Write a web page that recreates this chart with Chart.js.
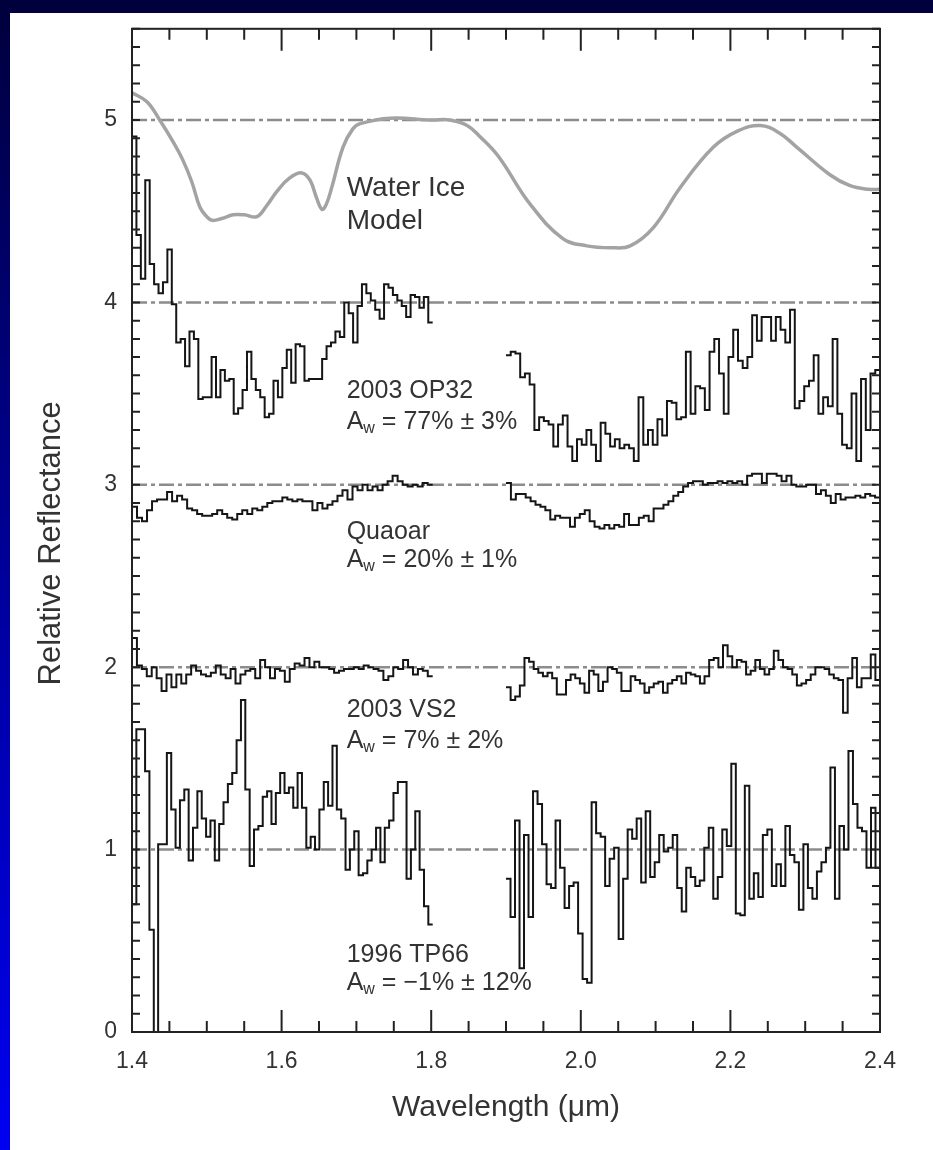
<!DOCTYPE html>
<html>
<head>
<meta charset="utf-8">
<script src="https://cdn.jsdelivr.net/npm/chart.js@4.4.1/dist/chart.umd.min.js"></script>
<style>
  html, body { margin: 0; padding: 0; }
  body {
    width: 933px; height: 1150px; position: relative; overflow: hidden;
    background: linear-gradient(to bottom, #00003c 0%, #00009a 50%, #0000f2 100%);
  }
  #panel { position: absolute; left: 10px; top: 13px; width: 923px; height: 1137px; background: #fff; }
  #spec { position: absolute; left: 0; top: 0; }
</style>
</head>
<body>
<div id="panel"></div>
<canvas id="spec" width="933" height="1150"></canvas>
<script>
// rentang panjang gelombang tiap potongan spektrum (mikron)
const segStart = [1.4, 1.9];
const segEnd = [1.802, 2.4];

// tick label sumbu
const xTickLabels = [1.4, 1.6, 1.8, 2.0, 2.2, 2.4];
const yTickLabels = [0, 1, 2, 3, 4, 5];
const refLevels = [1, 2, 3, 4, 5];

// model es air (kurva halus abu-abu)
const modelWave = [1.400, 1.420, 1.437, 1.455, 1.468, 1.480, 1.491, 1.500, 1.507, 1.520, 1.535, 1.550, 1.567, 1.580, 1.594, 1.610, 1.627, 1.638, 1.647, 1.654, 1.660, 1.667, 1.682, 1.695, 1.705, 1.745, 1.800, 1.825, 1.848, 1.865, 1.890, 1.932, 1.976, 2.008, 2.040, 2.066, 2.097, 2.133, 2.177, 2.210, 2.240, 2.265, 2.289, 2.333, 2.360, 2.385, 2.400];
const modelRefl = [5.15, 5.10, 5.00, 4.88, 4.78, 4.66, 4.52, 4.47, 4.45, 4.46, 4.48, 4.48, 4.47, 4.53, 4.61, 4.68, 4.71, 4.67, 4.57, 4.51, 4.54, 4.63, 4.85, 4.95, 4.98, 5.01, 5.00, 5.00, 4.97, 4.91, 4.80, 4.54, 4.35, 4.31, 4.30, 4.31, 4.41, 4.63, 4.85, 4.94, 4.97, 4.93, 4.85, 4.70, 4.64, 4.62, 4.62];

// spektrum (nilai per bin, potongan kiri dan kanan)
const op32A = [4.91, 4.37, 4.13, 4.67, 4.21, 4.10, 4.05, 4.11, 4.29, 3.99,
  3.78, 3.80, 3.65, 3.84, 3.80, 3.47, 3.48, 3.48, 3.70, 3.48,
  3.63, 3.57, 3.58, 3.39, 3.42, 3.52, 3.73, 3.58, 3.52, 3.48,
  3.37, 3.39, 3.57, 3.48, 3.64, 3.74, 3.56, 3.77, 3.76, 3.57,
  3.58, 3.58, 3.58, 3.69, 3.76, 3.78, 3.84, 3.81, 4.00, 3.94,
  3.78, 3.98, 4.10, 4.05, 4.01, 3.96, 3.91, 4.10, 4.08, 4.04,
  4.01, 3.98, 3.92, 4.04, 4.03, 3.97, 4.03, 3.89];
const op32B = [3.71, 3.73, 3.72, 3.59, 3.61, 3.55, 3.30, 3.37, 3.35, 3.33,
  3.21, 3.33, 3.38, 3.21, 3.13, 3.25, 3.22, 3.30, 3.22, 3.13,
  3.34, 3.28, 3.21, 3.25, 3.20, 3.22, 3.20, 3.13, 3.48, 3.22,
  3.30, 3.22, 3.36, 3.27, 3.46, 3.45, 3.36, 3.37, 3.73, 3.39,
  3.54, 3.53, 3.41, 3.73, 3.80, 3.61, 3.39, 3.70, 3.85, 3.68,
  3.64, 3.70, 3.93, 3.79, 3.92, 3.92, 3.79, 3.92, 3.85, 3.78,
  3.96, 3.42, 3.46, 3.54, 3.57, 3.71, 3.39, 3.48, 3.43, 3.80,
  3.39, 3.22, 3.20, 3.50, 3.13, 3.58, 3.30, 3.61, 3.63];

const quaoarA = [2.88, 2.82, 2.80, 2.86, 2.91, 2.92, 2.92, 2.96, 2.91, 2.94,
  2.92, 2.87, 2.86, 2.84, 2.83, 2.83, 2.84, 2.86, 2.84, 2.82,
  2.81, 2.84, 2.86, 2.84, 2.87, 2.86, 2.88, 2.90, 2.91, 2.91,
  2.93, 2.92, 2.91, 2.92, 2.91, 2.91, 2.86, 2.90, 2.87, 2.89,
  2.91, 2.94, 2.97, 2.92, 2.99, 2.97, 3.00, 2.97, 2.99, 2.97,
  3.00, 3.02, 3.05, 3.02, 3.00, 2.99, 3.00, 2.99, 3.01, 3.00];
const quaoarB = [3.01, 2.92, 2.95, 2.95, 2.93, 2.91, 2.89, 2.88, 2.86, 2.81,
  2.83, 2.82, 2.82, 2.77, 2.82, 2.84, 2.86, 2.80, 2.77, 2.76,
  2.78, 2.76, 2.78, 2.77, 2.84, 2.78, 2.78, 2.82, 2.83, 2.80,
  2.87, 2.87, 2.89, 2.91, 2.94, 2.96, 2.99, 3.01, 3.02, 3.02,
  3.00, 3.01, 3.01, 3.02, 3.01, 3.02, 3.01, 3.02, 3.00, 3.05,
  3.06, 3.06, 3.01, 3.06, 3.06, 3.05, 3.02, 3.05, 3.00, 2.99,
  2.99, 3.00, 3.00, 2.95, 2.97, 2.94, 2.90, 2.95, 2.92, 2.93,
  2.93, 2.94, 2.93, 2.95, 2.94, 2.93];

const vs2A = [2.16, 2.01, 1.99, 1.95, 2.00, 1.94, 1.87, 1.96, 1.89, 1.96,
  1.91, 1.96, 2.01, 1.98, 1.96, 1.95, 1.97, 2.01, 1.96, 1.94,
  1.99, 1.91, 1.96, 1.98, 1.99, 1.94, 2.04, 2.00, 1.94, 1.99,
  1.98, 1.92, 1.99, 2.02, 2.01, 2.05, 2.00, 2.03, 2.00, 2.00,
  1.99, 1.97, 1.98, 1.99, 1.99, 2.00, 1.99, 2.01, 2.00, 1.99,
  1.98, 1.93, 1.95, 2.00, 1.99, 2.04, 2.00, 1.96, 1.99, 1.98, 1.95];
const vs2B = [1.89, 1.82, 1.84, 1.90, 2.05, 2.03, 1.99, 1.97, 1.95, 1.97,
  1.94, 1.85, 1.85, 1.93, 1.96, 1.94, 1.91, 1.86, 1.98, 1.96,
  1.87, 1.92, 2.00, 1.99, 1.97, 1.87, 1.87, 1.95, 1.93, 1.91,
  1.86, 1.89, 1.91, 1.92, 1.86, 1.91, 1.93, 1.95, 1.91, 1.97,
  1.96, 1.95, 1.91, 1.95, 2.04, 2.05, 2.00, 2.12, 2.06, 2.00,
  2.04, 2.03, 1.96, 1.98, 2.04, 1.99, 1.96, 1.99, 2.09, 2.04,
  2.00, 1.99, 1.96, 1.90, 1.91, 1.93, 1.96, 2.00, 2.00, 1.99,
  1.96, 1.94, 1.93, 1.75, 1.94, 2.05, 1.89, 1.94, 1.94, 2.07, 1.93];

const tp66A = [0.70, 1.66, 1.66, 1.43, 0.56, -0.05, 1.03, 1.03, 1.53, 1.22,
  1.01, 1.27, 1.33, 0.94, 1.12, 1.32, 1.17, 1.07, 1.16, 0.94,
  1.14, 1.26, 1.36, 1.42, 1.60, 1.82, 1.33, 0.91, 1.11, 1.13,
  1.29, 1.32, 1.14, 1.31, 1.42, 1.31, 1.34, 1.23, 1.42, 1.23,
  1.01, 1.07, 1.00, 1.22, 1.37, 1.24, 1.57, 1.22, 1.17, 0.89,
  1.00, 1.10, 0.86, 0.87, 0.94, 1.00, 1.12, 0.93, 1.12, 1.16,
  1.31, 1.37, 1.37, 0.84, 1.00, 1.21, 0.89, 0.69, 0.59];
const tp66B = [0.84, 0.63, 1.16, 0.35, 1.08, 0.63, 1.32, 1.25, 1.03, 0.81,
  0.79, 1.16, 0.90, 0.68, 0.80, 0.82, 0.54, 0.29, 0.27, 1.26,
  1.09, 1.07, 0.80, 0.95, 1.01, 0.51, 0.84, 1.11, 1.06, 1.17,
  0.82, 1.21, 0.85, 0.93, 1.08, 0.99, 1.01, 1.08, 0.79, 0.66,
  0.90, 0.85, 0.80, 0.83, 1.01, 1.12, 0.73, 0.85, 1.11, 1.02,
  1.47, 0.65, 0.64, 1.35, 0.73, 0.87, 0.74, 1.08, 1.11, 0.80,
  0.92, 0.80, 1.13, 0.97, 0.93, 0.67, 1.03, 0.79, 0.73, 0.88,
  0.93, 1.01, 1.45, 0.73, 1.13, 1.00, 1.54, 1.25, 1.12, 1.10,
  0.90, 1.23, 0.90];

// label teks di dalam plot: posisi dalam satuan data
const notes = [
  { x: 1.687, y: [4.584, 4.403], lines: ['Water Ice', 'Model'], size: 28 },
  { x: 1.687, y: [3.478, 3.308], lines: ['2003 OP32', 'A_w = 77% ± 3%'], size: 25 },
  { x: 1.687, y: [2.705, 2.547], lines: ['Quaoar', 'A_w = 20% ± 1%'], size: 25 },
  { x: 1.687, y: [1.725, 1.555], lines: ['2003 VS2', 'A_w = 7% ± 2%'], size: 25 },
  { x: 1.687, y: [0.383, 0.230], lines: ['1996 TP66', 'A_w = \u22121% ± 12%'], size: 25 }
];

const FONT = '"Liberation Sans", Arial, Helvetica, sans-serif';
Chart.defaults.font.family = FONT;
Chart.defaults.color = '#333';

// titik histogram: tepi kiri tiap bin + titik penutup
function stepPoints(values, x0, x1) {
  const dx = (x1 - x0) / values.length;
  const pts = values.map((v, i) => ({ x: x0 + i * dx, y: v }));
  pts.push({ x: x1, y: values[values.length - 1] });
  return pts;
}

const datasets = [];
refLevels.forEach(l => {
  datasets.push({
    data: [{ x: 1.4, y: l }, { x: 2.4, y: l }],
    borderColor: '#8c8c8c', borderWidth: 2.5, borderDash: [15, 4, 4, 4],
    pointRadius: 0, order: 3
  });
});
datasets.push({
  data: modelWave.map((w, i) => ({ x: w, y: modelRefl[i] })),
  borderColor: '#a3a3a3', borderWidth: 3.5, tension: 0.4,
  pointRadius: 0, order: 2
});
[[op32A, op32B], [quaoarA, quaoarB], [vs2A, vs2B], [tp66A, tp66B]].forEach(pair => {
  pair.forEach((vals, s) => {
    datasets.push({
      data: stepPoints(vals, segStart[s], segEnd[s]),
      borderColor: '#151515', borderWidth: 2, stepped: true,
      pointRadius: 0, order: 1
    });
  });
});

// bingkai, tick ke dalam, dan teks label
const frameAndNotes = {
  id: 'frameAndNotes',
  afterDatasetsDraw(chart) {
    const { ctx, chartArea: a, scales: { x, y } } = chart;
    ctx.save();
    ctx.strokeStyle = '#222';
    ctx.lineWidth = 2;
    ctx.strokeRect(a.left, a.top, a.right - a.left, a.bottom - a.top);
    ctx.beginPath();
    for (let k = 0; k <= 20; k++) {
      const px = x.getPixelForValue(1.4 + k * 0.05);
      const len = k % 4 === 0 ? 22 : 11;
      ctx.moveTo(px, a.bottom); ctx.lineTo(px, a.bottom - len);
      ctx.moveTo(px, a.top); ctx.lineTo(px, a.top + len);
    }
    for (let k = 0; k <= 55; k++) {
      const py = y.getPixelForValue(k / 10);
      ctx.moveTo(a.left, py); ctx.lineTo(a.left + 8, py);
      ctx.moveTo(a.right, py); ctx.lineTo(a.right - 8, py);
    }
    ctx.stroke();

    ctx.fillStyle = '#333';
    ctx.textBaseline = 'alphabetic';
    ctx.textAlign = 'left';
    notes.forEach(n => {
      const px = x.getPixelForValue(n.x);
      n.lines.forEach((t, i) => {
        const py = y.getPixelForValue(n.y[i]);
        ctx.font = n.size + 'px ' + FONT;
        if (t.startsWith('A_w')) {
          ctx.fillText('A', px, py);
          let cx = px + ctx.measureText('A').width;
          ctx.font = Math.round(n.size * 0.65) + 'px ' + FONT;
          ctx.fillText('w', cx, py + 4);
          cx += ctx.measureText('w').width;
          ctx.font = n.size + 'px ' + FONT;
          ctx.fillText(t.slice(3), cx, py);
        } else {
          ctx.fillText(t, px, py);
        }
      });
    });
    ctx.restore();
  }
};

new Chart(document.getElementById('spec'), {
  type: 'line',
  data: { datasets },
  options: {
    responsive: false,
    animation: false,
    devicePixelRatio: 1,
    layout: { padding: { left: 0, top: 27, right: 53, bottom: 0 } },
    plugins: { legend: { display: false }, tooltip: { enabled: false } },
    scales: {
      x: {
        type: 'linear', min: 1.4, max: 2.4,
        afterBuildTicks: s => { s.ticks = xTickLabels.map(v => ({ value: v })); },
        afterFit: s => { s.height = 118; },
        grid: { display: false, drawTicks: false },
        border: { display: false },
        ticks: { padding: 16, font: { size: 23 }, color: '#333', callback: v => v.toFixed(1) },
        title: { display: true, text: 'Wavelength (\u03bcm)', color: '#333', font: { size: 30 }, padding: { top: 0, bottom: 24 } }
      },
      y: {
        type: 'linear', min: 0, max: 5.5,
        afterBuildTicks: s => { s.ticks = yTickLabels.map(v => ({ value: v })); },
        afterFit: s => { s.width = 132; },
        grid: { display: false, drawTicks: false },
        border: { display: false },
        ticks: { padding: 15, font: { size: 23 }, color: '#333', callback: v => String(v) },
        title: { display: true, text: 'Relative Reflectance   ', color: '#333', font: { size: 31 }, padding: { top: 33, bottom: 0 } }
      }
    }
  },
  plugins: [frameAndNotes]
});
</script>
</body>
</html>
